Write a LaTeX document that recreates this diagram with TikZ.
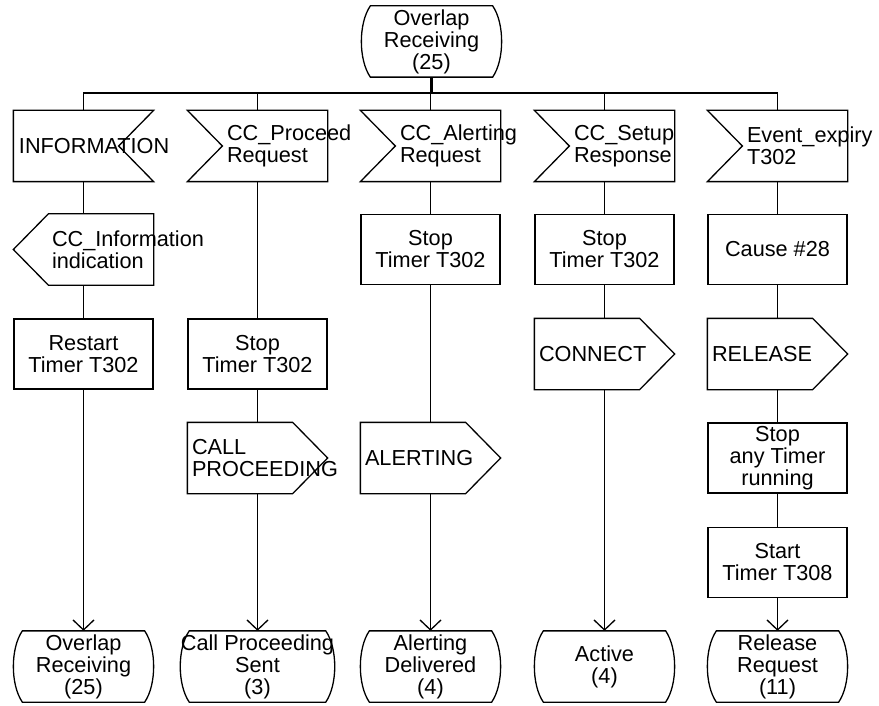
\documentclass[tikz,border=0pt]{standalone}
\usepackage{fontspec}
\setmainfont{Liberation Sans}
\usetikzlibrary{arrows.meta}
\tikzset{
  sdl/.style={minimum width=139pt, minimum height=70pt, inner sep=0pt,
    font=\fontsize{21.7}{22}\selectfont,
    execute at begin node={\hyphenpenalty=10000\relax\exhyphenpenalty=10000\relax}},
  task/.style={sdl, draw, align=center},
  state/.style={sdl, align=center},
  inL/.style={sdl, align=left, text width=61pt},
  inR/.style={sdl, align=left, text width=129pt},
  outL/.style={sdl, align=left, text width=63pt},
  outR/.style={sdl, align=left, text width=131pt},
  arr/.style={-{Straight Barb[length=10pt,width=21pt]}}
}
\begin{document}
\begin{tikzpicture}[x=1pt, y=-1pt, line width=1.3pt]
  \useasboundingbox (0,0) rectangle (879,706);
  % start state
  \node[state] (top) at (431.5,41.5) {Overlap\\Receiving\\(25)};
  % inputs
  \node[inR] (in1) at (83.5,146) {INFORMATION};
  \node[inL] (in2) at (257.5,146) {CC\_Proceed\\Request};
  \node[inL] (in3) at (430.5,146) {CC\_Alerting\\Request};
  \node[inL] (in4) at (604.5,146) {CC\_Setup\\Response};
  \node[inL] (in5) at (777.5,146) {Event\_expiry\\T302};
  % row 2
  \node[outL] (ol1) at (83.5,249.5) {CC\_Information\\indication};
  \node[task] (t3a) at (430.5,249.5) {Stop\\Timer T302};
  \node[task] (t4a) at (604.5,249.5) {Stop\\Timer T302};
  \node[task] (t5a) at (777.5,249.5) {Cause \#28};
  % row 3
  \node[task] (t1) at (83.5,354) {Restart\\Timer T302};
  \node[task] (t2) at (257.5,354) {Stop\\Timer T302};
  \node[outR] (or4) at (604.5,354) {CONNECT};
  \node[outR] (or5) at (777.5,354) {RELEASE};
  % row 4
  \node[outR] (or2) at (257.5,458) {CALL\\PROCEEDING};
  \node[outR] (or3) at (430.5,458) {ALERTING};
  \node[task] (t5b) at (777.5,458) {Stop\\any Timer\\running};
  % row 5
  \node[task] (t5c) at (777.5,562.5) {Start\\Timer T308};
  % next states
  \node[state] (s1) at (83.5,666.5) {Overlap\\Receiving\\(25)};
  \node[state] (s2) at (257.5,666.5) {Call Proceeding\\Sent\\(3)};
  \node[state] (s3) at (430.5,666.5) {Alerting\\Delivered\\(4)};
  \node[state] (s4) at (604.5,666.5) {Active\\(4)};
  \node[state] (s5) at (777.5,666.5) {Release\\Request\\(11)};

  % outlines
  \foreach \n in {top,s1,s2,s3,s4,s5}
    \draw ([xshift=9pt]\n.north west) -- ([xshift=-9pt]\n.north east)
      .. controls ([xshift=3pt,yshift=-17.5pt]\n.north east)
         and ([xshift=3pt,yshift=17.5pt]\n.south east) .. ([xshift=-9pt]\n.south east)
      -- ([xshift=9pt]\n.south west)
      .. controls ([xshift=-3pt,yshift=17.5pt]\n.south west)
         and ([xshift=-3pt,yshift=-17.5pt]\n.north west) .. ([xshift=9pt]\n.north west) -- cycle;
  \foreach \n in {in2,in3,in4,in5}
    \draw (\n.north west) -- (\n.north east) -- (\n.south east) -- (\n.south west)
      -- ([xshift=35pt]\n.west) -- cycle;
  \draw (in1.north west) -- (in1.north east) -- ([xshift=-35pt]in1.east)
    -- (in1.south east) -- (in1.south west) -- cycle;
  \draw ([xshift=35pt]ol1.north west) -- (ol1.north east) -- (ol1.south east)
    -- ([xshift=35pt]ol1.south west) -- (ol1.west) -- cycle;
  \foreach \n in {or2,or3,or4,or5}
    \draw (\n.north west) -- ([xshift=-35pt]\n.north east) -- (\n.east)
      -- ([xshift=-35pt]\n.south east) -- (\n.south west) -- cycle;

  % branches
  \coordinate (bus) at ([yshift=-16pt]top.south);
  \foreach \n in {in1,in2,in3,in4,in5}
    \draw (top) -- (bus) -| (\n);
  \draw[line width=2.4pt] (top) -- (bus);
  \draw[line width=2.4pt] (in2.north |- bus) -- (in4.north |- bus);

  % flows
  \draw (in1) -- (ol1) -- (t1);
  \draw (in2) -- (t2) -- (or2);
  \draw (in3) -- (t3a) -- (or3);
  \draw (in4) -- (t4a) -- (or4);
  \draw (in5) -- (t5a) -- (or5) -- (t5b) -- (t5c);
  \draw[arr] (t1) -- (s1);
  \draw[arr] (or2) -- (s2);
  \draw[arr] (or3) -- (s3);
  \draw[arr] (or4) -- (s4);
  \draw[arr] (t5c) -- (s5);
\end{tikzpicture}
\end{document}
